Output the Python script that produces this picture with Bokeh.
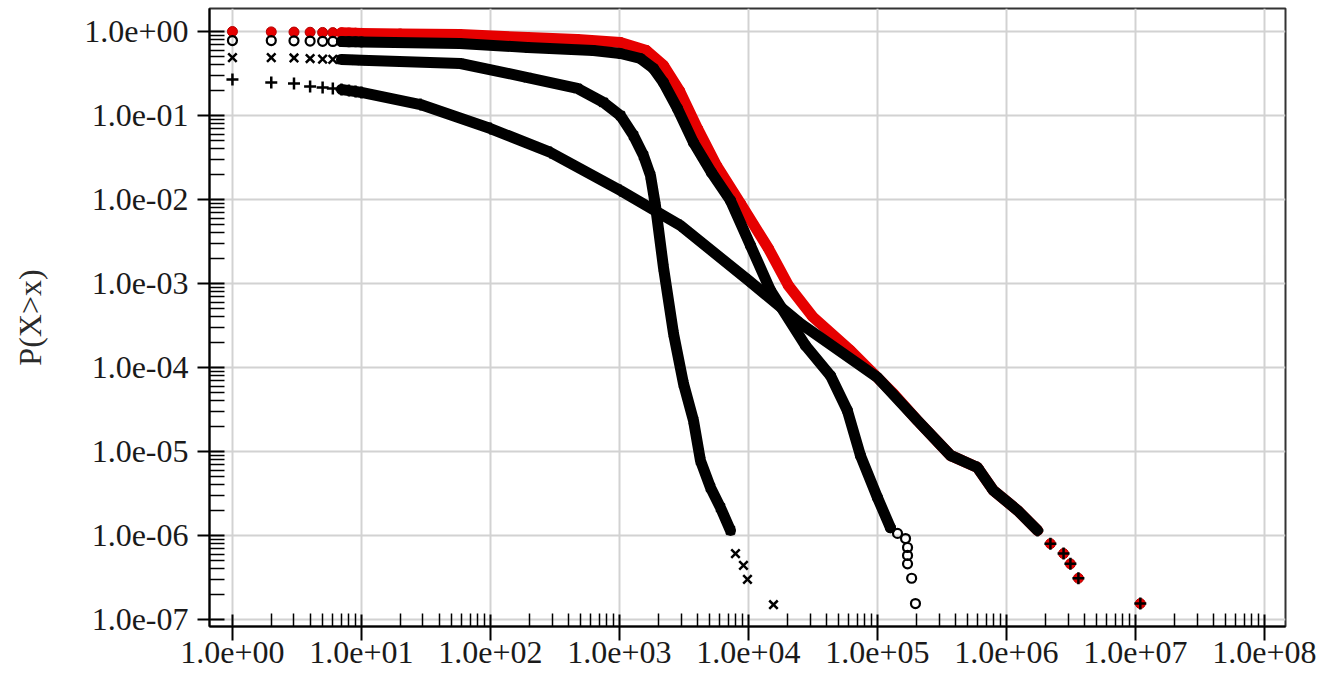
from bokeh.plotting import figure
from bokeh.models import Range1d, FixedTicker, CustomJSTickFormatter
from bokeh.embed import file_html
from bokeh.resources import INLINE

# ---- data (CCDF, log-log) ----
red_x = [1, 2, 3, 4, 5, 6, 7, 8, 9, 10, 20, 58, 194, 472, 1018, 1620, 2194, 2917,
         4027, 5648, 8665, 14290, 20420, 31330, 61800, 133000, 204000, 368000,
         596000, 793000, 1220000, 1740000, 2190000, 2770000, 3130000, 3610000, 10900000]
red_y = [1.0, 0.99, 0.985, 0.98, 0.975, 0.97, 0.965, 0.96, 0.955, 0.95, 0.935, 0.921,
         0.848, 0.803, 0.740, 0.594, 0.394, 0.198, 0.070, 0.0254, 0.0090, 0.00261,
         0.000946, 0.000405, 0.000159, 4.9e-5, 2.34e-5, 9.0e-6, 6.45e-6, 3.43e-6,
         1.99e-6, 1.15e-6, 8.0e-7, 6.1e-7, 4.6e-7, 3.1e-7, 1.55e-7]

o_x = [1, 2, 3, 4, 5, 6, 7, 8, 9, 10, 58, 194, 628, 1018, 1456, 1835, 2194, 2818,
       3748, 5164, 7251, 10370, 14820, 27670, 43250, 58400, 73800, 100000, 126000,
       143000, 165000, 171000, 171000, 171000, 184000, 197000]
o_y = [0.78, 0.78, 0.775, 0.77, 0.765, 0.762, 0.76, 0.757, 0.755, 0.752, 0.720, 0.645,
       0.594, 0.547, 0.477, 0.363, 0.247, 0.121, 0.0477, 0.0210, 0.00973, 0.00283,
       0.000826, 0.000183, 8.0e-5, 3.08e-5, 8.96e-6, 2.83e-6, 1.24e-6, 1.06e-6,
       9.2e-7, 7.2e-7, 5.8e-7, 4.6e-7, 3.1e-7, 1.55e-7]

x_x = [1, 2, 3, 4, 5, 6, 7, 8, 9, 10, 58.5, 194, 472, 751, 1018, 1285, 1535, 1740,
       1901, 2194, 2624, 3134, 3748, 4246, 5075, 6067, 7251, 7932, 9147, 9821, 15630]
x_y = [0.49, 0.49, 0.484, 0.477, 0.47, 0.466, 0.463, 0.46, 0.457, 0.454, 0.416, 0.283,
       0.21, 0.143, 0.100, 0.0578, 0.0334, 0.0193, 0.00849, 0.00155, 0.000254, 6.45e-5,
       2.34e-5, 7.8e-6, 3.73e-6, 2.15e-6, 1.15e-6, 6.1e-7, 4.4e-7, 3.0e-7, 1.5e-7]

plus_x = [1, 2, 3, 4, 5, 6, 7, 8, 9, 10, 28.7, 100, 292, 1018, 2972, 10000, 25290,
          100000, 204000, 368000, 596000, 793000, 1220000, 1740000, 2190000, 2770000,
          3130000, 3610000, 10900000]
plus_y = [0.268, 0.247, 0.240, 0.221, 0.216, 0.210, 0.204, 0.198, 0.193, 0.188, 0.135,
          0.070, 0.0363, 0.0128, 0.0049, 0.00109, 0.000334, 7.6e-5, 2.34e-5, 9.0e-6,
          6.45e-6, 3.43e-6, 1.99e-6, 1.15e-6, 8.0e-7, 6.1e-7, 4.6e-7, 3.1e-7, 1.55e-7]

x_major = [1e0, 1e1, 1e2, 1e3, 1e4, 1e5, 1e6, 1e7, 1e8]
y_major = [1e-7, 1e-6, 1e-5, 1e-4, 1e-3, 1e-2, 1e-1, 1e0]

FONT = "Liberation Serif"

p = figure(width=1324, height=682, x_axis_type="log", y_axis_type="log",
           x_range=Range1d(0.664, 1.455e8), y_range=Range1d(8.26e-8, 1.879),
           output_backend="svg", toolbar_location=None,
           min_border_left=209, min_border_right=39, min_border_top=8, min_border_bottom=56)

p.background_fill_color = "white"
p.border_fill_color = "white"
p.outline_line_color = "#333333"
p.outline_line_width = 2

x_minor = [m * d for d in x_major[:-1] for m in range(2, 10)]
y_minor = [m * d for d in y_major[:-1] for m in range(2, 10)]

fmt = CustomJSTickFormatter(code="""
const e = Math.round(Math.log10(tick));
const a = Math.abs(e);
return "1.0e" + (e < 0 ? "-" : "+") + (a < 10 ? "0" : "") + a;
""")

xa = p.xaxis[0]
xa.ticker = FixedTicker(ticks=x_major, minor_ticks=x_minor)
xa.formatter = fmt
ya = p.yaxis[0]
ya.ticker = FixedTicker(ticks=y_major, minor_ticks=y_minor)
ya.formatter = fmt

for ax in (xa, ya):
    ax.axis_line_color = "black"
    ax.axis_line_width = 2
    ax.major_tick_line_color = "black"
    ax.major_tick_line_width = 2
    ax.minor_tick_line_color = "black"
    ax.minor_tick_line_width = 1.5
    ax.minor_tick_out = 0
    ax.major_label_text_font = FONT
    ax.major_label_text_font_size = "32px"
    ax.major_label_text_color = "#1a1a1a"

xa.major_tick_in = 12
xa.major_tick_out = 14
xa.minor_tick_in = 13
xa.major_label_standoff = 1

ya.major_tick_in = 15
ya.major_tick_out = 12
ya.minor_tick_in = 15
ya.major_label_standoff = 9

ya.axis_label = "P(X>x)"
ya.axis_label_text_font = FONT
ya.axis_label_text_font_size = "32px"
ya.axis_label_text_font_style = "normal"
ya.axis_label_text_color = "#2a2a2a"
ya.axis_label_standoff = 33

p.grid.grid_line_color = "#d2d2d2"
p.grid.grid_line_width = 2

BAND = 11

# red series (drawn first, underneath)
p.scatter(red_x, red_y, marker="circle", size=10, fill_color="#e60000",
          line_color="#b30000", line_width=1)
p.line(red_x[6:32], red_y[6:32], line_width=BAND, line_color="#e60000",
       line_join="round", line_cap="round")

# open circles
p.scatter(o_x, o_y, marker="circle", size=9, fill_alpha=0, line_color="black", line_width=2.2)
p.line(o_x[6:29], o_y[6:29], line_width=BAND, line_color="black",
       line_join="round", line_cap="round")

# crosses (x)
p.scatter(x_x, x_y, marker="x", size=12, line_color="black", line_width=2.5)
p.line(x_x[6:27], x_y[6:27], line_width=BAND, line_color="black",
       line_join="round", line_cap="round")

# plus
p.scatter(plus_x, plus_y, marker="cross", size=12, line_color="black", line_width=2.5)
p.line(plus_x[6:24], plus_y[6:24], line_width=BAND, line_color="black",
       line_join="round", line_cap="round")

open("out.html", "w").write(file_html(p, INLINE))
